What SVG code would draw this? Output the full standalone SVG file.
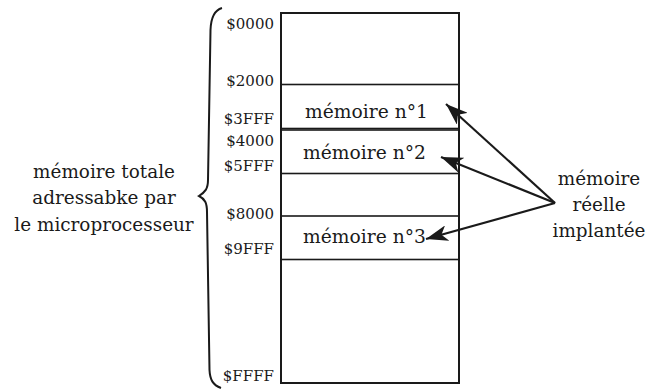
<svg xmlns="http://www.w3.org/2000/svg" width="648" height="389" viewBox="0 0 648 389">
<defs>
<style>
text{font-family:'DejaVu Serif','Liberation Serif',serif;fill:#1a1a1a}
.addr{font-size:15px;text-anchor:end}
.lbl{font-size:18.7px}
.side{font-size:18.4px;text-anchor:middle}
.frame{fill:#fff;stroke:#1a1a1a;stroke-width:2}
.blk{fill:none;stroke:#1a1a1a;stroke-width:1.6}
.conn{stroke:#1a1a1a;stroke-width:2.2;fill:none}
</style>
<marker id="ah" markerWidth="24" markerHeight="16" refX="22" refY="8" orient="auto" markerUnits="userSpaceOnUse">
<path d="M0,0 L22,8 L0,16 L6,8 Z" fill="#1a1a1a"/>
</marker>
</defs>
<g id="memory">
<rect class="frame" x="281" y="13" width="178" height="370"/>
</g>
<g id="block1">
<rect class="blk" x="281" y="84.5" width="178" height="44"/>
<text class="lbl" x="305" y="118">mémoire n°1</text>
</g>
<g id="block2">
<rect class="blk" x="281" y="130" width="178" height="43.5"/>
<text class="lbl" x="303" y="159">mémoire n°2</text>
</g>
<g id="block3">
<rect class="blk" x="281" y="216" width="178" height="43.5"/>
<text class="lbl" x="303" y="243">mémoire n°3</text>
</g>
<g id="addresses">
<text class="addr" x="274" y="29">$0000</text>
<text class="addr" x="274" y="86">$2000</text>
<text class="addr" x="274" y="124">$3FFF</text>
<text class="addr" x="274" y="146">$4000</text>
<text class="addr" x="274" y="171">$5FFF</text>
<text class="addr" x="274" y="219">$8000</text>
<text class="addr" x="274" y="254">$9FFF</text>
<text class="addr" x="274" y="381">$FFFF</text>
</g>
<g id="total">
<path d="M222,8 C215,10 211,16 210.5,30 L208,180 C208,189 205,192 199,196 C205,199 207,203 207,212 L209.5,370 C210,380 213,385 221,388" fill="none" stroke="#1a1a1a" stroke-width="2"/>
<text class="side" x="104" y="178">mémoire totale</text>
<text class="side" x="104" y="204">adressabke par</text>
<text class="side" x="104" y="231">le microprocesseur</text>
</g>
<g id="reelle">
<text class="side" x="599" y="185">mémoire</text>
<text class="side" x="599" y="211">réelle</text>
<text class="side" x="599" y="237">implantée</text>
</g>
<g id="connectors">
<line class="conn" x1="555" y1="203" x2="446" y2="104" marker-end="url(#ah)"/>
<line class="conn" x1="555" y1="203" x2="441" y2="157" marker-end="url(#ah)"/>
<line class="conn" x1="555" y1="203" x2="426" y2="239" marker-end="url(#ah)"/>
</g>
</svg>
